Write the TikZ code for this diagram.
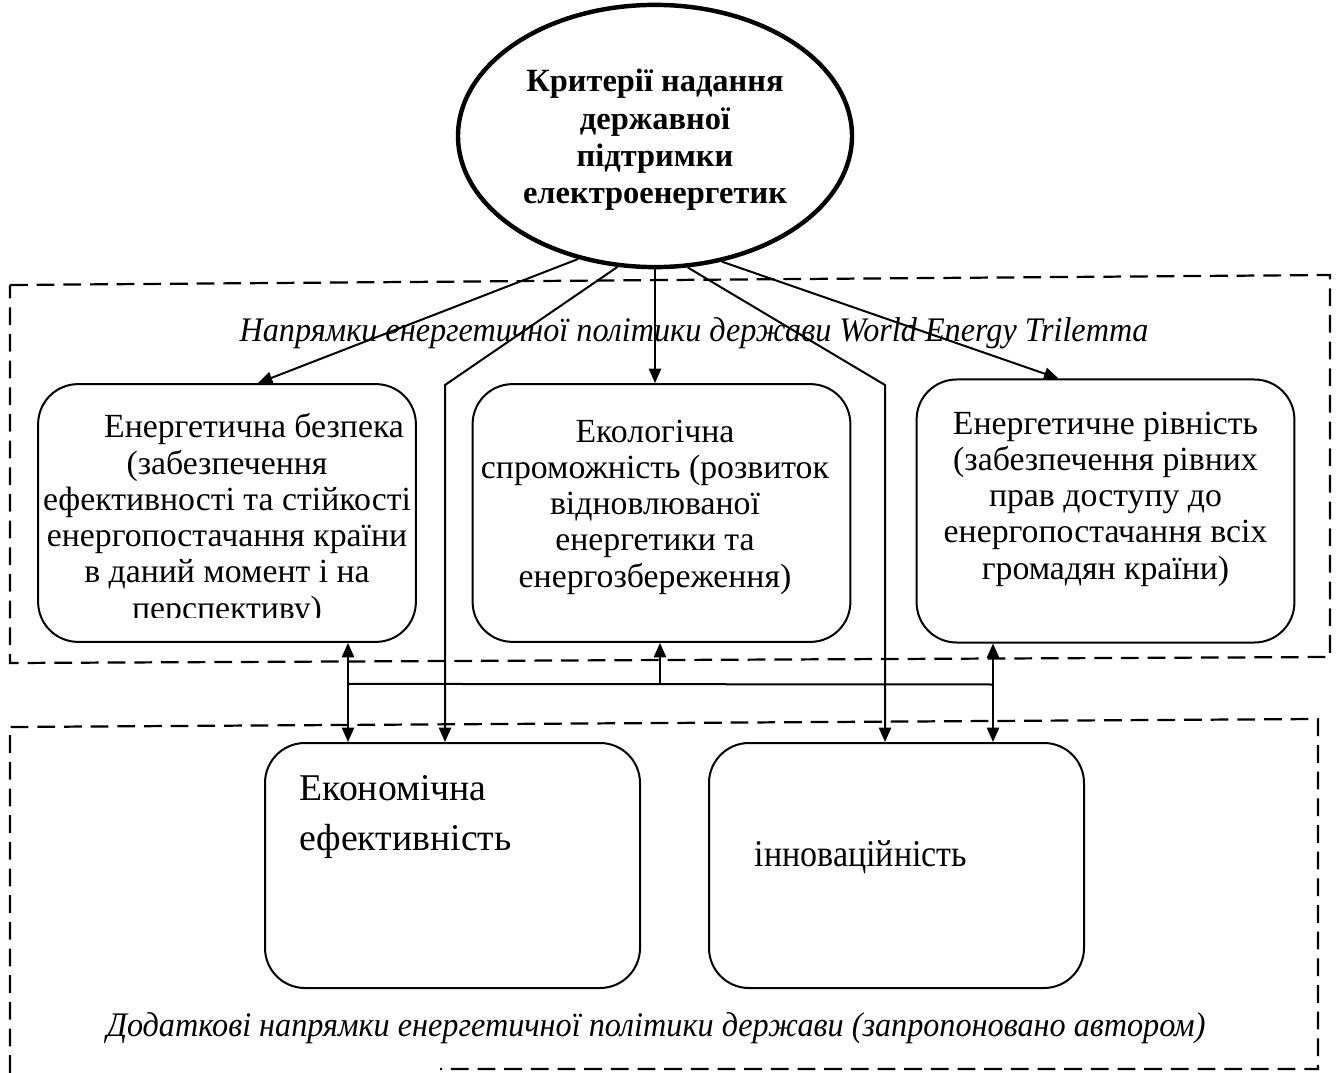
\documentclass[tikz,border=0pt]{standalone}
\usepackage{fontspec}
\setmainfont{Liberation Serif}
\usetikzlibrary{shapes.geometric,arrows.meta,calc}
\tikzset{
  conn/.style={line width=0.9pt},
  arr/.style={conn,-{Triangle[length=6.5pt,width=5.5pt]}},
  darr/.style={conn,{Triangle[length=6.5pt,width=5.5pt]}-{Triangle[length=6.5pt,width=5.5pt]}},
  dbox/.style={line width=1pt,dash pattern=on 8pt off 4pt},
  rbox/.style={draw,line width=0.9pt,rounded corners=18pt,minimum width=170pt,minimum height=116pt,inner sep=0pt},
  lbox/.style={draw,line width=0.9pt,rounded corners=18pt,minimum width=168.75pt,minimum height=110.25pt,inner sep=0pt},
  btxt/.style={align=center,font=\fontsize{15.2pt}{16.3pt}\selectfont,inner sep=0pt},
  bigtxt/.style={align=left,font=\fontsize{17pt}{22.5pt}\selectfont,inner sep=0pt},
  captxt/.style={font=\fontsize{15.5pt}{18pt}\selectfont\itshape,inner sep=0pt},
}
\begin{document}
\begin{tikzpicture}[x=0.45pt,y=-0.45pt]
\useasboundingbox (0,0) rectangle (1336,1073);
% dashed groups
\draw[dbox] (10,285) -- (1330,275) -- (1330,657) -- (10,663) -- cycle;
\draw[dbox] (10,1073) -- (10,727) -- (1318,719) -- (1318,1069) -- (440,1069);
% top ellipse
\node[draw,ellipse,line width=2pt,minimum width=177.3pt,minimum height=118pt,inner sep=0pt] (ell) at (655,136) {};
\node[align=center,inner sep=0pt,font=\fontsize{14.6pt}{16.8pt}\selectfont\bfseries] (title) at (655,140)
  {Критерії надання\\державної\\підтримки\\електроенергетик};
% caption 1
\node[captxt] (cap1) at (694,333) {\scalebox{0.935}[1]{Напрямки енергетичної політики держави World Energy Trilemma}};
% boxes row 1
\node[rbox] (b1) at (227,513) {};
\begin{scope}
\clip (38,384) rectangle (416,617);
\node[btxt] (t1) at (227,520) {\hspace*{1.6em}Енергетична безпека\\(забезпечення\hspace*{1.2em}\\ефективності та стійкості\\енергопостачання країни\\в даний момент і на\\перспективу)};
\end{scope}
\node[rbox] (b2) at (661.5,513) {};
\node[btxt] (t2) at (655,507) {Екологічна\\спроможність (розвиток\\відновлюваної\\енергетики та\\енергозбереження)};
\node[rbox,minimum height=118.35pt] (b3) at (1105.5,511) {};
\node[btxt] (t3) at (1105.5,499) {Енергетичне рівність\\(забезпечення рівних\\прав доступу до\\енергопостачання всіх\\громадян країни)};
% boxes row 2
\node[lbox] (b4) at (452.5,865.5) {};
\node[bigtxt,anchor=north west] (t4) at (299,775) {Економічна\\ефективність};
\node[lbox] (b5) at (896.5,865.5) {};
\node[bigtxt] (t5) at (861,857) {\scalebox{0.9}[1]{інноваційність}};
% caption 2
\node[captxt] (cap2) at (656,1028) {\scalebox{0.935}[1]{Додаткові напрямки енергетичної політики держави (запропоновано автором)}};
% connectors from ellipse
\draw[arr] (ell.-122) -- ($(b1.north)+(31,0)$);
\draw[arr] (ell.south) -- (ell.south |- b2.north);
\draw[arr] (ell.-62) -- ($(b3.north)+(-47,0)$);
\draw[arr] (ell.-106) -- ($(b4.north)+(-7.5,-357)$) -- ($(b4.north)+(-7.5,0)$);
\draw[arr] (ell.-76) -- ($(b5.north)+(-11.5,-357)$) -- ($(b5.north)+(-11.5,0)$);
% bus
\coordinate (busL) at ($(b1.south)+(121,41)$);
\coordinate (busR) at ($(b3.south)+(-112.5,41)$);
\draw[conn] (busL) -- (busR);
\draw[darr] (b1.south -| busL) -- (b4.north -| busL);
\draw[darr] (b3.south -| busR) -- (b5.north -| busR);
\draw[arr] ($(busL)+(312,0)$) -- ($(b2.south)+(-1.5,0)$);
\end{tikzpicture}
\end{document}
